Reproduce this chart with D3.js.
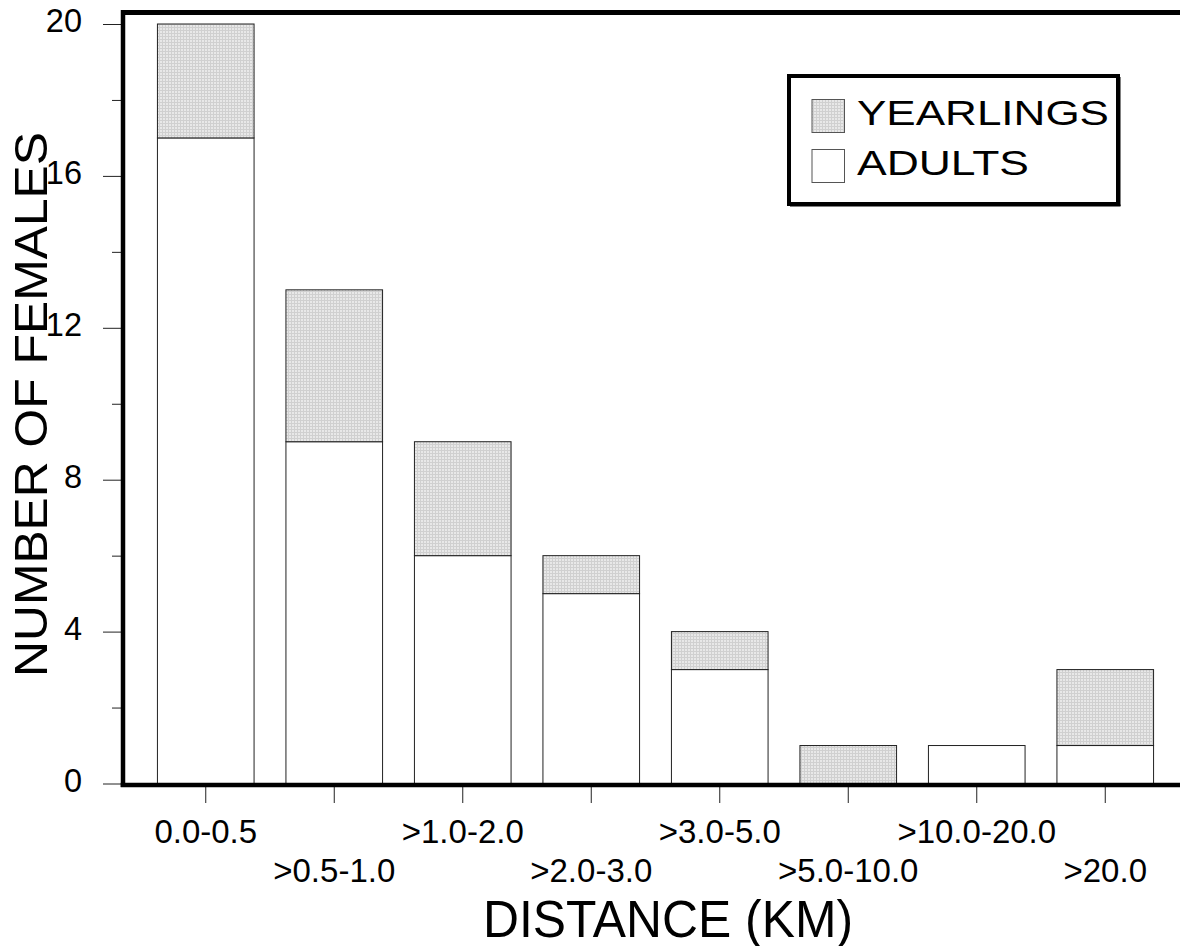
<!DOCTYPE html>
<html>
<head>
<meta charset="utf-8">
<script src="https://cdn.jsdelivr.net/npm/d3@7"></script>
<style>
  html, body { margin: 0; padding: 0; background: #fff; }
  svg { display: block; }
  text { font-family: "Liberation Sans", Arial, Helvetica, sans-serif; fill: #000; }
</style>
</head>
<body>
<svg id="chart" width="1180" height="946"></svg>
<script>
const categories = ["0.0-0.5", ">0.5-1.0", ">1.0-2.0", ">2.0-3.0", ">3.0-5.0", ">5.0-10.0", ">10.0-20.0", ">20.0"];
const adults = [17, 9, 6, 5, 3, 0, 1, 1];
const yearlings = [3, 4, 3, 1, 1, 1, 0, 2];
const seriesNames = ["YEARLINGS", "ADULTS"];
const yMajorTicks = [0, 4, 8, 12, 16, 20];
const yMinorTicks = [2, 6, 10, 14, 18];
const xTitle = "DISTANCE (KM)";
const yTitle = "NUMBER OF FEMALES";

const svg = d3.select("#chart");

// pattern for stippled grey fill
const defs = svg.append("defs");
const pat = defs.append("pattern")
  .attr("id", "stipple").attr("patternUnits", "userSpaceOnUse")
  .attr("width", 3).attr("height", 3);
pat.append("rect").attr("width", 3).attr("height", 3).attr("fill", "#e8e8e8");
pat.append("rect").attr("x", 0).attr("y", 0).attr("width", 1).attr("height", 3).attr("fill", "#d0d0d0");
pat.append("rect").attr("x", 0).attr("y", 0).attr("width", 3).attr("height", 1).attr("fill", "#d0d0d0");

const x = d3.scaleBand().domain(categories)
  .range([141.5, 1169.5]).paddingInner(0.248).paddingOuter(0.124);
const y = d3.scaleLinear().domain([0, 20]).range([783.5, 24]);

const data = categories.map((c, i) => ({ cat: c, adults: adults[i], yearlings: yearlings[i] }));
const stack = d3.stack().keys(["adults", "yearlings"])(data);

const fills = { adults: "#ffffff", yearlings: "url(#stipple)" };

const gBars = svg.append("g");
stack.forEach(layer => {
  gBars.append("g").selectAll("rect")
    .data(layer.filter(d => d[1] - d[0] > 0))
    .join("rect")
    .attr("x", d => x(d.data.cat))
    .attr("width", x.bandwidth())
    .attr("y", d => y(d[1]))
    .attr("height", d => y(d[0]) - y(d[1]))
    .attr("fill", fills[layer.key])
    .attr("stroke", "#222")
    .attr("stroke-width", 1);
});

// Y axis ticks
const yAxisG = svg.append("g").attr("transform", "translate(121,0)")
  .call(d3.axisLeft(y).tickValues(yMajorTicks).tickSize(18).tickPadding(21).tickFormat(d3.format("d")));
yAxisG.select(".domain").remove();
yAxisG.selectAll(".tick line").attr("stroke", "#222");
yAxisG.selectAll(".tick text")
  .attr("dy", 0).attr("y", 7.5)
  .style("font-size", "32.5px").style("font-family", "Liberation Sans, Arial, sans-serif");

const yMinorG = svg.append("g").attr("transform", "translate(121,0)")
  .call(d3.axisLeft(y).tickValues(yMinorTicks).tickSize(9).tickFormat(""));
yMinorG.select(".domain").remove();
yMinorG.selectAll(".tick line").attr("stroke", "#222");

// X axis ticks
const xAxisG = svg.append("g").attr("transform", "translate(0,787)")
  .call(d3.axisBottom(x).tickSize(16).tickSizeOuter(0));
xAxisG.select(".domain").remove();
xAxisG.selectAll(".tick line").attr("stroke", "#222");
xAxisG.selectAll(".tick text")
  .attr("dy", 0)
  .attr("y", (d, i) => i % 2 === 0 ? 56.3 : 95)
  .style("font-size", "33px").style("font-family", "Liberation Sans, Arial, sans-serif");

// Frame lines
svg.append("line").attr("x1", 121).attr("x2", 1180).attr("y1", 12.5).attr("y2", 12.5)
  .attr("stroke", "#000").attr("stroke-width", 5);
svg.append("line").attr("x1", 123).attr("x2", 123).attr("y1", 10).attr("y2", 787)
  .attr("stroke", "#000").attr("stroke-width", 4.5);
svg.append("line").attr("x1", 120.7).attr("x2", 1180).attr("y1", 785).attr("y2", 785)
  .attr("stroke", "#000").attr("stroke-width", 4.5);

// Axis titles
svg.append("text").attr("x", 668).attr("y", 936.5)
  .attr("text-anchor", "middle")
  .attr("textLength", 370).attr("lengthAdjust", "spacingAndGlyphs")
  .style("font-size", "51px").text(xTitle);

svg.append("text").attr("transform", "translate(47,404.5) rotate(-90)")
  .attr("text-anchor", "middle")
  .attr("textLength", 545).attr("lengthAdjust", "spacingAndGlyphs")
  .style("font-size", "47px").text(yTitle);

// Legend
const lg = svg.append("g");
lg.append("rect").attr("x", 789).attr("y", 76).attr("width", 329).attr("height", 128)
  .attr("fill", "#fff").attr("stroke", "#000").attr("stroke-width", 4);
lg.append("line").attr("x1", 1119.5).attr("x2", 1119.5).attr("y1", 77).attr("y2", 206)
  .attr("stroke", "#000").attr("stroke-width", 2);
lg.append("line").attr("x1", 790).attr("x2", 1120.5).attr("y1", 205.5).attr("y2", 205.5)
  .attr("stroke", "#000").attr("stroke-width", 2);

const legendItems = [
  { name: seriesNames[0], fill: fills.yearlings, y: 99.5, base: 124.5, len: 252 },
  { name: seriesNames[1], fill: fills.adults, y: 149.5, base: 174.5, len: 172 }
];
legendItems.forEach(it => {
  lg.append("rect").attr("x", 812).attr("y", it.y).attr("width", 32.5).attr("height", 33)
    .attr("fill", it.fill).attr("stroke", "#555").attr("stroke-width", 1);
  lg.append("text").attr("x", 857).attr("y", it.base)
    .attr("textLength", it.len).attr("lengthAdjust", "spacingAndGlyphs")
    .style("font-size", "35px").text(it.name);
});
</script>
</body>
</html>
